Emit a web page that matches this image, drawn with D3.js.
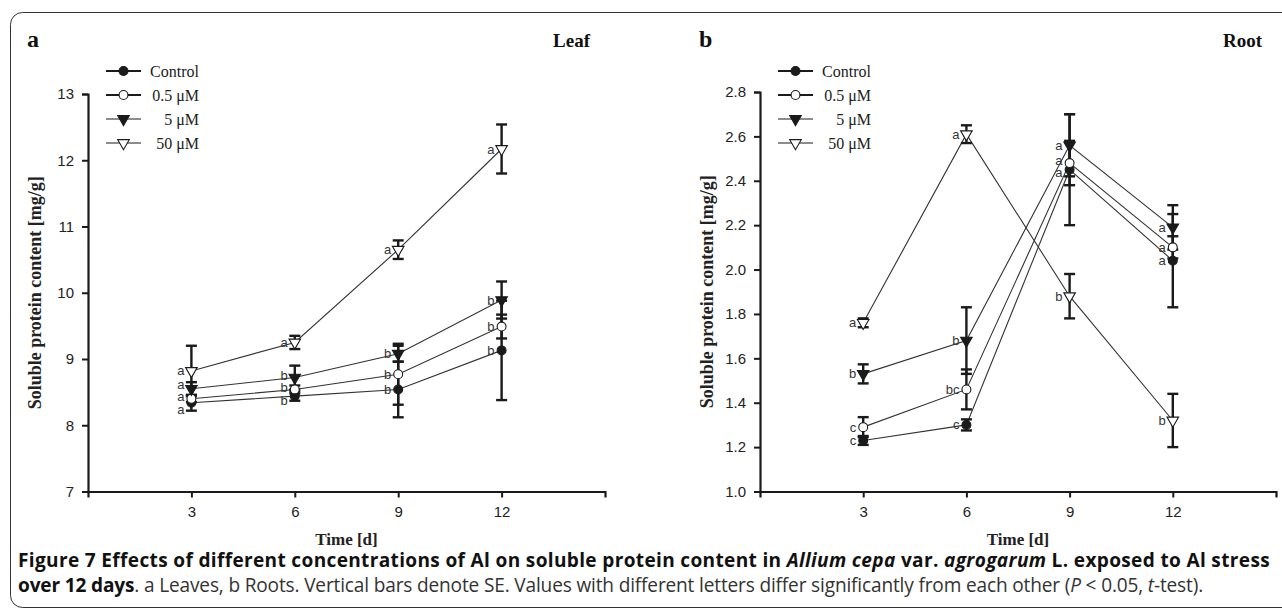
<!DOCTYPE html>
<html>
<head>
<meta charset="utf-8">
<script src="https://cdn.jsdelivr.net/npm/d3@7"></script>
<style>
body { margin: 0; background: #fff; }
svg { display: block; }
</style>
</head>
<body>
<div id="chart"></div>
<script>
'use strict';

// ---- data ----
var days = [3, 6, 9, 12];
var xDomain = [0, 15];
var seriesNames = ['Control', '0.5 μM', '5 μM', '50 μM'];
var leafTicks = [7, 8, 9, 10, 11, 12, 13];
var rootTicks = [1.0, 1.2, 1.4, 1.6, 1.8, 2.0, 2.2, 2.4, 2.6, 2.8];

// leaf (panel a)
var leafControl = [8.34, 8.44, 8.54, 9.13];
var leafControlSE = [0.12, 0.07, 0.42, 0.75];
var leafControlSig = ['a', 'b', 'b', 'b'];
var leafLow = [8.40, 8.54, 8.77, 9.49];
var leafLowSE = [0.05, 0.06, 0.46, 0.18];
var leafLowSig = ['a', 'b', 'b', 'b'];
var leafMid = [8.55, 8.72, 9.08, 9.89];
var leafMidSE = [0.10, 0.18, 0.12, 0.28];
var leafMidSig = ['a', 'b', 'b', 'b'];
var leafHigh = [8.82, 9.25, 10.65, 12.17];
var leafHighSE = [0.38, 0.10, 0.14, 0.37];
var leafHighSig = ['a', 'a', 'a', 'a'];

// root (panel b)
var rootControl = [1.23, 1.30, 2.45, 2.04];
var rootControlSE = [0.02, 0.025, 0.25, 0.21];
var rootControlSig = ['c', 'c', 'a', 'a'];
var rootLow = [1.29, 1.46, 2.48, 2.10];
var rootLowSE = [0.045, 0.09, 0.10, 0.05];
var rootLowSig = ['c', 'bc', 'a', 'a'];
var rootMid = [1.53, 1.68, 2.56, 2.19];
var rootMidSE = [0.043, 0.15, 0.14, 0.10];
var rootMidSig = ['b', 'b', 'a', 'a'];
var rootHigh = [1.76, 2.61, 1.88, 1.32];
var rootHighSE = [0.02, 0.04, 0.10, 0.12];
var rootHighSig = ['a', 'a', 'b', 'b'];

// ---- layout / styles ----
var W = 1282, H = 609;
var SERIF = '"Liberation Serif", "Times New Roman", serif';
var SANS = '"Liberation Sans", Arial, sans-serif';
var INK = '#1a1a1a';

var markers = [
    { type: d3.symbolCircle, size: 62, fill: INK, rot: 0 },
    { type: d3.symbolCircle, size: 62, fill: '#fff', rot: 0 },
    { type: d3.symbolTriangle, size: 58, fill: INK, rot: 180 },
    { type: d3.symbolTriangle, size: 58, fill: '#fff', rot: 180 }
];

var panels = [
    {
        letter: 'a', title: 'Leaf', left: 88, right: 605, top: 94, bottom: 491.5,
        domain: [7, 13], ticks: leafTicks, fmt: d3.format('d'), titleEnd: 590,
        series: [
            { mean: leafControl, se: leafControlSE, sig: leafControlSig },
            { mean: leafLow, se: leafLowSE, sig: leafLowSig },
            { mean: leafMid, se: leafMidSE, sig: leafMidSig },
            { mean: leafHigh, se: leafHighSE, sig: leafHighSig }
        ]
    },
    {
        letter: 'b', title: 'Root', left: 760, right: 1276, top: 92, bottom: 491.5,
        domain: [1.0, 2.8], ticks: rootTicks, fmt: d3.format('.1f'), titleEnd: 1262,
        series: [
            { mean: rootControl, se: rootControlSE, sig: rootControlSig },
            { mean: rootLow, se: rootLowSE, sig: rootLowSig },
            { mean: rootMid, se: rootMidSE, sig: rootMidSig },
            { mean: rootHigh, se: rootHighSE, sig: rootHighSig }
        ]
    }
];

var svg = d3.select('#chart').append('svg')
    .attr('width', W)
    .attr('height', H);

// figure frame
svg.append('rect')
    .attr('x', 10.5).attr('y', 12.5)
    .attr('width', 1300).attr('height', 595)
    .attr('rx', 12)
    .attr('fill', 'none')
    .attr('stroke', '#333')
    .attr('stroke-width', 1);

function symbolPath(m) {
    return d3.symbol().type(m.type).size(m.size)();
}

panels.forEach(function (p) {
    var g = svg.append('g');
    var x = d3.scaleLinear().domain(xDomain).range([p.left, p.right]);
    var y = d3.scaleLinear().domain(p.domain).range([p.bottom, p.top]);

    // axes
    var xAxis = g.append('g')
        .attr('transform', 'translate(0,' + p.bottom + ')')
        .call(d3.axisBottom(x).tickValues(days).tickSize(6).tickPadding(9));
    var yAxis = g.append('g')
        .attr('transform', 'translate(' + p.left + ',0)')
        .call(d3.axisLeft(y).tickValues(p.ticks).tickFormat(p.fmt).tickSize(6).tickPadding(8));
    [xAxis, yAxis].forEach(function (a) {
        a.select('.domain').attr('stroke', INK).attr('stroke-width', 2.2);
        a.selectAll('.tick line').attr('stroke', INK).attr('stroke-width', 2);
        a.selectAll('.tick text')
            .attr('font-family', SANS)
            .attr('font-size', 15)
            .attr('fill', '#222');
    });

    // axis titles
    g.append('text')
        .attr('x', (p.left + p.right) / 2)
        .attr('y', 545)
        .attr('text-anchor', 'middle')
        .attr('font-family', SERIF)
        .attr('font-weight', 'bold')
        .attr('font-size', 17)
        .attr('fill', '#222')
        .text('Time [d]');
    g.append('text')
        .attr('transform', 'translate(' + (p.left - 47) + ',' + ((p.top + p.bottom) / 2) + ') rotate(-90)')
        .attr('text-anchor', 'middle')
        .attr('font-family', SERIF)
        .attr('font-weight', 'bold')
        .attr('font-size', 18)
        .attr('fill', '#222')
        .text('Soluble protein content [mg/g]');

    // panel letter and title
    g.append('text')
        .attr('x', p.left - 61).attr('y', 47)
        .attr('font-family', SERIF).attr('font-weight', 'bold')
        .attr('font-size', 24).attr('fill', '#111')
        .text(p.letter);
    g.append('text')
        .attr('x', p.titleEnd).attr('y', 47)
        .attr('text-anchor', 'end')
        .attr('font-family', SERIF).attr('font-weight', 'bold')
        .attr('font-size', 19).attr('fill', '#111')
        .text(p.title);

    // connecting lines
    var line = d3.line()
        .x(function (d, i) { return x(days[i]); })
        .y(function (d) { return y(d); });
    p.series.forEach(function (s) {
        g.append('path')
            .attr('d', line(s.mean))
            .attr('fill', 'none')
            .attr('stroke', '#333')
            .attr('stroke-width', 1.1);
    });

    // error bars
    p.series.forEach(function (s) {
        var eb = g.append('g').attr('stroke', INK).attr('stroke-width', 2.4);
        s.mean.forEach(function (m, i) {
            var cx = x(days[i]);
            var y0 = y(m - s.se[i]), y1 = y(m + s.se[i]);
            eb.append('line').attr('x1', cx).attr('x2', cx).attr('y1', y0).attr('y2', y1);
            eb.append('line').attr('x1', cx - 5.5).attr('x2', cx + 5.5).attr('y1', y0).attr('y2', y0);
            eb.append('line').attr('x1', cx - 5.5).attr('x2', cx + 5.5).attr('y1', y1).attr('y2', y1);
        });
    });

    // markers
    p.series.forEach(function (s, k) {
        var m = markers[k];
        g.selectAll(null)
            .data(s.mean)
            .enter().append('path')
            .attr('d', symbolPath(m))
            .attr('transform', function (d, i) {
                return 'translate(' + x(days[i]) + ',' + y(d) + ') rotate(' + m.rot + ')';
            })
            .attr('fill', m.fill)
            .attr('stroke', INK)
            .attr('stroke-width', 1.1);
    });

    // significance letters, spread apart where they would collide
    days.forEach(function (day, i) {
        var labs = p.series.map(function (s) {
            return { text: s.sig[i], y: y(s.mean[i]) };
        }).sort(function (a, b) { return a.y - b.y; });
        var gap = 12.5;
        for (var it = 0; it < 40; it++) {
            for (var j = 0; j < labs.length - 1; j++) {
                var d = labs[j + 1].y - labs[j].y;
                if (d < gap) {
                    var push = (gap - d) / 2;
                    labs[j].y -= push;
                    labs[j + 1].y += push;
                }
            }
        }
        labs.forEach(function (l) {
            g.append('text')
                .attr('x', x(day) - 7)
                .attr('y', l.y)
                .attr('dy', '0.35em')
                .attr('text-anchor', 'end')
                .attr('font-family', SANS)
                .attr('font-size', 13)
                .attr('fill', '#333')
                .text(l.text);
        });
    });

    // legend
    var lg = g.append('g');
    seriesNames.forEach(function (name, k) {
        var ly = 71 + k * 24;
        var m = markers[k];
        lg.append('line')
            .attr('x1', p.left + 18).attr('x2', p.left + 53)
            .attr('y1', ly).attr('y2', ly)
            .attr('stroke', INK)
            .attr('stroke-width', k < 2 ? 1.8 : 1.2);
        lg.append('path')
            .attr('d', symbolPath(m))
            .attr('transform', 'translate(' + (p.left + 35.5) + ',' + ly + ') rotate(' + m.rot + ')')
            .attr('fill', m.fill)
            .attr('stroke', INK)
            .attr('stroke-width', 1.1);
        lg.append('text')
            .attr('x', p.left + 111).attr('y', ly)
            .attr('dy', '0.35em')
            .attr('text-anchor', 'end')
            .attr('font-family', SERIF)
            .attr('font-size', 16)
            .attr('fill', '#222')
            .text(name);
    });
});

// caption
var cap = svg.append('g').attr('font-family', '"Open Sans", "Noto Sans", sans-serif');
var line1 = cap.append('text').attr('x', 18).attr('y', 567).attr('font-size', 16).attr('fill', '#111').attr('font-weight', 'bold');
line1.append('tspan').text('Figure 7 Effects of different concentrations of Al on soluble protein content in ');
line1.append('tspan').attr('font-style', 'italic').text('Allium cepa');
line1.append('tspan').text(' var. ');
line1.append('tspan').attr('font-style', 'italic').text('agrogarum');
line1.append('tspan').text(' L. exposed to Al stress');

var line2 = cap.append('text').attr('x', 18).attr('y', 592).attr('font-size', 16).attr('fill', '#333');
line2.append('tspan').attr('font-weight', 'bold').attr('fill', '#111').text('over 12 days');
line2.append('tspan').text('. a Leaves, b Roots. Vertical bars denote SE. Values with different letters differ significantly from each other (');
line2.append('tspan').attr('font-style', 'italic').text('P');
line2.append('tspan').text(' < 0.05, ');
line2.append('tspan').attr('font-style', 'italic').text('t');
line2.append('tspan').text('-test).');

// a size just under the one that fills line 1, then even out each line to its width
function fitLine(t, target) {
    var len = t.node().getComputedTextLength();
    t.attr('letter-spacing', ((target - len) / t.text().length).toFixed(3) + 'px');
}
var fs = 0.965 * 16 * 1252 / line1.node().getComputedTextLength();
line1.attr('font-size', fs);
line2.attr('font-size', fs);
fitLine(line1, 1252);
fitLine(line2, 1185);
</script>
</body>
</html>
